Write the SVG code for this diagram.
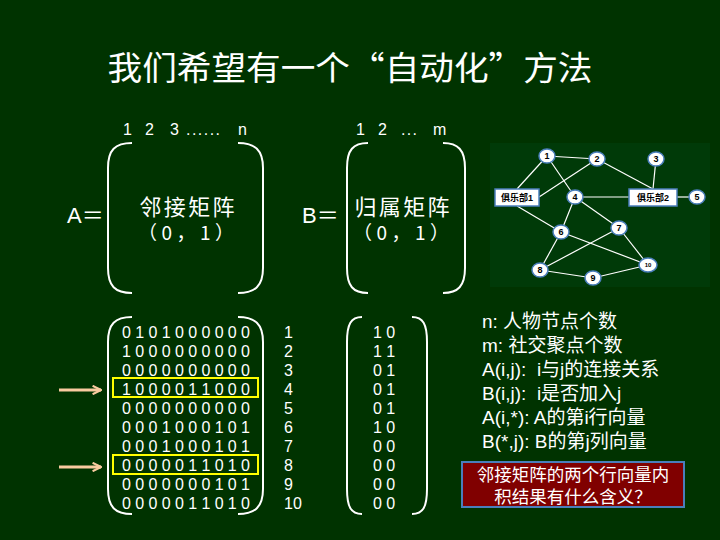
<svg xmlns="http://www.w3.org/2000/svg" width="720" height="540" viewBox="0 0 720 540">
<style>
text{font-family:"Liberation Sans","Noto Sans CJK SC",sans-serif;fill:#fff}
.cjk{font-family:"Noto Sans CJK SC",sans-serif}
.paren{fill:none;stroke:#fff;stroke-width:2}
.m{font-size:16px}
.g{fill:none;stroke:#fff;stroke-width:1.2}
.nd ellipse{fill:#fff;stroke:#4a7ebb;stroke-width:1.5}
.nd rect{fill:#fff;stroke:#4a7ebb;stroke-width:1.5}
.nd text{fill:#000;font-size:9px;font-weight:bold;text-anchor:middle}
.hl{fill:none;stroke:#ffff00;stroke-width:2}
.arr{stroke:#f9cba0;stroke-width:3;fill:none}
.leg{font-size:19px}
</style>
<defs>
<marker id="ah" viewBox="0 0 10 10" refX="9" refY="5" markerWidth="3.5" markerHeight="3.5" orient="auto" markerUnits="strokeWidth">
<path d="M1,1 L9,5 L1,9" fill="none" stroke="#f9cba0" stroke-width="2"/>
</marker>
</defs>
<rect width="720" height="540" fill="#003300"/>
<text class="cjk" x="350" y="80" font-size="33" text-anchor="middle" textLength="485" lengthAdjust="spacingAndGlyphs">我们希望有一个“自动化”方法</text>

<!-- top matrices -->
<g id="matA-top">
<text class="m" y="135"><tspan x="123">1</tspan><tspan x="145">2</tspan><tspan x="170">3</tspan><tspan x="186" textLength="34">......</tspan><tspan x="238">n</tspan></text>
<text x="67" y="223" font-size="22">A＝</text>
<path class="paren" d="M132,143 C115,143 108,150 108,168 L108,268 C108,286 115,293 132,293"/>
<path class="paren" d="M238,143 C255,143 263,150 263,168 L263,268 C263,286 255,293 238,293"/>
<text x="187" y="215" font-size="22" text-anchor="middle" textLength="95">邻接矩阵</text>
<text class="cjk" x="186" y="240" font-size="19" text-anchor="middle" textLength="96">（0，1）</text>
</g>
<g id="matB-top">
<text class="m" y="135"><tspan x="356">1</tspan><tspan x="378">2</tspan><tspan x="401" textLength="16">...</tspan><tspan x="433">m</tspan></text>
<text x="302" y="223" font-size="22">B＝</text>
<path class="paren" d="M368,143 C353,143 347,150 347,168 L347,268 C347,286 353,293 368,293"/>
<path class="paren" d="M443,143 C458,143 465,150 465,168 L465,268 C465,286 458,293 443,293"/>
<text x="402" y="215" font-size="22" text-anchor="middle" textLength="95">归属矩阵</text>
<text class="cjk" x="401" y="240" font-size="19" text-anchor="middle" textLength="96">（0，1）</text>
</g>

<!-- graph panel -->
<rect x="490" y="143" width="220" height="144" fill="#003a08"/>
<g id="connectors">
<line class="g" x1="547" y1="156" x2="597" y2="159"/>
<line class="g" x1="547" y1="156" x2="517" y2="189"/>
<line class="g" x1="547" y1="156" x2="575" y2="197"/>
<line class="g" x1="597" y1="159" x2="539" y2="197"/>
<line class="g" x1="597" y1="159" x2="653" y2="189"/>
<line class="g" x1="656" y1="159" x2="653" y2="189"/>
<line class="g" x1="575" y1="197" x2="629" y2="197"/>
<line class="g" x1="677" y1="197" x2="697" y2="197"/>
<line class="g" x1="575" y1="197" x2="561" y2="232"/>
<line class="g" x1="575" y1="197" x2="619" y2="228"/>
<line class="g" x1="517" y1="206" x2="561" y2="232"/>
<line class="g" x1="561" y1="232" x2="540" y2="270"/>
<line class="g" x1="561" y1="232" x2="648" y2="265"/>
<line class="g" x1="619" y1="228" x2="540" y2="270"/>
<line class="g" x1="619" y1="228" x2="648" y2="265"/>
<line class="g" x1="540" y1="270" x2="593" y2="278"/>
<line class="g" x1="593" y1="278" x2="648" y2="265"/>
</g>
<g id="club1" class="nd"><rect x="495" y="189" width="44" height="17"/><text x="517" y="201">俱乐部1</text></g>
<g id="club2" class="nd"><rect x="629" y="189" width="48" height="17"/><text x="653" y="201">俱乐部2</text></g>
<g id="n1" class="nd"><ellipse cx="547" cy="156" rx="8" ry="7"/><text x="547" y="159">1</text></g>
<g id="n2" class="nd"><ellipse cx="597" cy="159" rx="8" ry="7"/><text x="597" y="162">2</text></g>
<g id="n3" class="nd"><ellipse cx="656" cy="159" rx="8" ry="7"/><text x="656" y="162">3</text></g>
<g id="n4" class="nd"><ellipse cx="575" cy="197" rx="8" ry="7"/><text x="575" y="200">4</text></g>
<g id="n5" class="nd"><ellipse cx="697" cy="197" rx="8" ry="7"/><text x="697" y="200">5</text></g>
<g id="n6" class="nd"><ellipse cx="561" cy="232" rx="8" ry="7"/><text x="561" y="235">6</text></g>
<g id="n7" class="nd"><ellipse cx="619" cy="228" rx="8" ry="7"/><text x="619" y="231">7</text></g>
<g id="n8" class="nd"><ellipse cx="540" cy="270" rx="8" ry="7"/><text x="540" y="273">8</text></g>
<g id="n9" class="nd"><ellipse cx="593" cy="278" rx="8" ry="7"/><text x="593" y="281">9</text></g>
<g id="n10" class="nd"><ellipse cx="648" cy="265" rx="9" ry="7"/><text x="648" y="267" style="font-size:6px">10</text></g>

<!-- bottom A matrix -->
<g id="matA">
<path class="paren" d="M132,317 C115,317 108,324 108,342 L108,489 C108,507 115,514 132,514"/>
<path class="paren" d="M238,317 C255,317 263,324 263,342 L263,489 C263,507 255,514 238,514"/>
<g class="m">
<text x="122" y="338" textLength="128">0 1 0 1 0 0 0 0 0 0</text>
<text x="122" y="357" textLength="128">1 0 0 0 0 0 0 0 0 0</text>
<text x="122" y="376" textLength="128">0 0 0 0 0 0 0 0 0 0</text>
<text x="122" y="395" textLength="128">1 0 0 0 0 1 1 0 0 0</text>
<text x="122" y="414" textLength="128">0 0 0 0 0 0 0 0 0 0</text>
<text x="122" y="433" textLength="128">0 0 0 1 0 0 0 1 0 1</text>
<text x="122" y="452" textLength="128">0 0 0 1 0 0 0 1 0 1</text>
<text x="122" y="471" textLength="128">0 0 0 0 0 1 1 0 1 0</text>
<text x="122" y="490" textLength="128">0 0 0 0 0 0 0 1 0 1</text>
<text x="122" y="509" textLength="128">0 0 0 0 0 1 1 0 1 0</text>
<text x="284" y="338">1</text>
<text x="284" y="357">2</text>
<text x="284" y="376">3</text>
<text x="284" y="395">4</text>
<text x="284" y="414">5</text>
<text x="284" y="433">6</text>
<text x="284" y="452">7</text>
<text x="284" y="471">8</text>
<text x="284" y="490">9</text>
<text x="284" y="509">10</text>
</g>
<rect class="hl" x="113" y="378" width="145" height="19"/>
<rect class="hl" x="113" y="455" width="145" height="19"/>
<line class="arr" x1="59" y1="390" x2="101" y2="390" marker-end="url(#ah)"/>
<line class="arr" x1="59" y1="467" x2="101" y2="467" marker-end="url(#ah)"/>
</g>

<!-- bottom B matrix -->
<g id="matB">
<path class="paren" d="M362,317 C351,317 347,324 347,342 L347,489 C347,507 351,514 362,514"/>
<path class="paren" d="M412,317 C423,317 427,324 427,342 L427,489 C427,507 423,514 412,514"/>
<g class="m">
<text x="373" y="338">1 0</text>
<text x="373" y="357">1 1</text>
<text x="373" y="376">0 1</text>
<text x="373" y="395">0 1</text>
<text x="373" y="414">0 1</text>
<text x="373" y="433">1 0</text>
<text x="373" y="452">0 0</text>
<text x="373" y="471">0 0</text>
<text x="373" y="490">0 0</text>
<text x="373" y="509">0 0</text>
</g>
</g>

<!-- legend -->
<g id="legend" class="leg">
<text x="482" y="328">n: 人物节点个数</text>
<text x="482" y="352">m: 社交聚点个数</text>
<text x="482" y="376" xml:space="preserve">A(i,j):  i与j的连接关系</text>
<text x="482" y="400" xml:space="preserve">B(i,j):  i是否加入j</text>
<text x="482" y="424">A(i,*): A的第i行向量</text>
<text x="482" y="448">B(*,j): B的第j列向量</text>
</g>

<g id="question">
<rect x="462" y="462" width="222" height="45" fill="#800000" stroke="#4a7ebb" stroke-width="2"/>
<text x="573" y="481" font-size="17.5" text-anchor="middle">邻接矩阵的两个行向量内</text>
<text x="573" y="503" font-size="17.5" text-anchor="middle">积结果有什么含义？</text>
</g>
</svg>
